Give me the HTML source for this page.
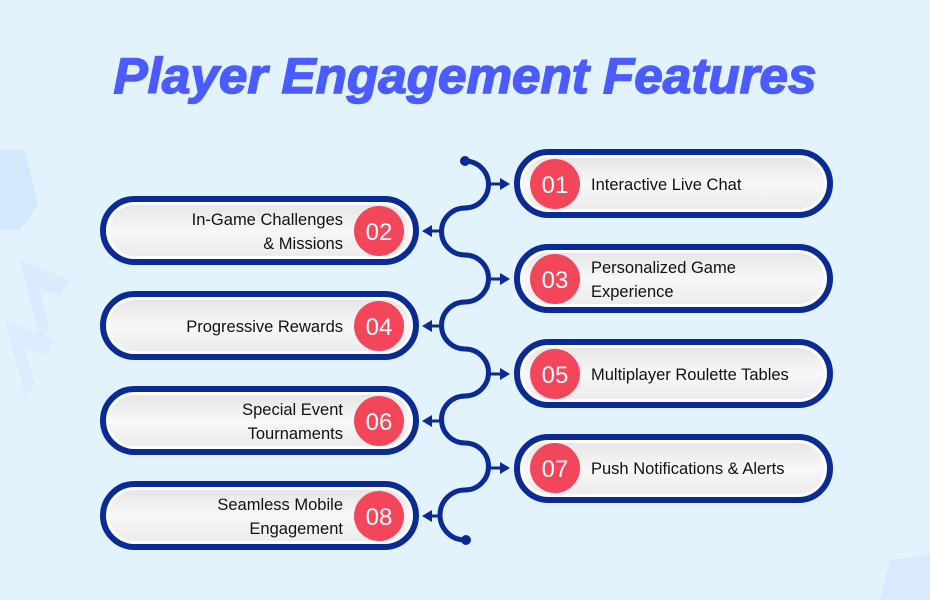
<!DOCTYPE html>
<html><head><meta charset="utf-8"><style>
html,body{margin:0;padding:0}
body{width:930px;height:600px;background:#e2f3fe;overflow:hidden;position:relative;font-family:"Liberation Sans",sans-serif}
svg{position:absolute;left:0;top:0}
.t{font-family:"Liberation Sans",sans-serif;font-size:16.5px;fill:#111}
.n{font-family:"Liberation Sans",sans-serif;font-size:24px;fill:#fff}
</style></head><body>
<svg width="930" height="600" viewBox="0 0 930 600">
<defs>
<linearGradient id="g" x1="0" y1="0" x2="0" y2="1"><stop offset="0" stop-color="#e6e6e6"/><stop offset="0.5" stop-color="#f7f7f7"/><stop offset="1" stop-color="#ececec"/></linearGradient>
</defs>
<g fill="#cddffb" opacity="0.6">
<path d="M0 150 L25 150 L38 205 L20 230 L0 230Z"/>
<path d="M20 260 L70 280 L60 295 L40 290 L50 330 L40 340Z" opacity="0.6"/>
<path d="M5 320 L55 340 L45 355 L25 348 L35 385 L25 395Z" opacity="0.5"/>
<path d="M890 560 L930 555 L930 600 L880 600Z" opacity="0.8"/>
</g>
<text x="465" y="93" text-anchor="middle" font-family="Liberation Sans, sans-serif" font-weight="bold" font-style="italic" font-size="50" fill="#4a5cff" stroke="#4a5cff" stroke-width="1.5" textLength="703" lengthAdjust="spacingAndGlyphs">Player Engagement Features</text>

<path d="M465 161 A23.5 23.5 0 0 1 465 208 A23.5 23.5 0 0 0 465 255 A23.5 23.5 0 0 1 465 302 A23.5 23.5 0 0 0 465 349 A23.5 23.5 0 0 1 465 396 A23.5 23.5 0 0 0 465 443 A23.5 23.5 0 0 1 465 490 A23.5 23.5 0 0 0 465 540" fill="none" stroke="#0a2a94" stroke-width="5"/>
<circle cx="465" cy="161" r="5" fill="#0a2a94"/>
<circle cx="466" cy="540" r="5" fill="#0a2a94"/>
<g stroke="#0a2a94" stroke-width="3" fill="#0a2a94">
<line x1="488" y1="184" x2="502" y2="184"/><path d="M510 184 L500 178 L500 190Z" stroke="none"/>
<line x1="488" y1="279" x2="502" y2="279"/><path d="M510 279 L500 273 L500 285Z" stroke="none"/>
<line x1="488" y1="374" x2="502" y2="374"/><path d="M510 374 L500 368 L500 380Z" stroke="none"/>
<line x1="488" y1="468" x2="502" y2="468"/><path d="M510 468 L500 462 L500 474Z" stroke="none"/>
<line x1="442" y1="231" x2="430" y2="231"/><path d="M422 231 L432 225 L432 237Z" stroke="none"/>
<line x1="442" y1="326" x2="430" y2="326"/><path d="M422 326 L432 320 L432 332Z" stroke="none"/>
<line x1="442" y1="421" x2="430" y2="421"/><path d="M422 421 L432 415 L432 427Z" stroke="none"/>
<line x1="442" y1="516" x2="430" y2="516"/><path d="M422 516 L432 510 L432 522Z" stroke="none"/>
</g>

<g>
<rect x="517" y="152" width="313" height="63" rx="31.5" fill="#fff" stroke="#0a2a94" stroke-width="6"/>
<rect x="523" y="158" width="301" height="51" rx="25.5" fill="url(#g)"/>
<circle cx="555" cy="184" r="25" fill="#f4465a"/><text class="n" x="555" y="193" text-anchor="middle">01</text>
<text class="t" x="591" y="190">Interactive Live Chat</text>

<rect x="517" y="247" width="313" height="63" rx="31.5" fill="#fff" stroke="#0a2a94" stroke-width="6"/>
<rect x="523" y="253" width="301" height="51" rx="25.5" fill="url(#g)"/>
<circle cx="555" cy="279" r="25" fill="#f4465a"/><text class="n" x="555" y="288" text-anchor="middle">03</text>
<text class="t" x="591" y="273">Personalized Game</text><text class="t" x="591" y="297">Experience</text>

<rect x="517" y="342" width="313" height="63" rx="31.5" fill="#fff" stroke="#0a2a94" stroke-width="6"/>
<rect x="523" y="348" width="301" height="51" rx="25.5" fill="url(#g)"/>
<circle cx="555" cy="374" r="25" fill="#f4465a"/><text class="n" x="555" y="383" text-anchor="middle">05</text>
<text class="t" x="591" y="380">Multiplayer Roulette Tables</text>

<rect x="517" y="437" width="313" height="63" rx="31.5" fill="#fff" stroke="#0a2a94" stroke-width="6"/>
<rect x="523" y="443" width="301" height="51" rx="25.5" fill="url(#g)"/>
<circle cx="555" cy="468" r="25" fill="#f4465a"/><text class="n" x="555" y="477" text-anchor="middle">07</text>
<text class="t" x="591" y="474">Push Notifications &amp; Alerts</text>
</g>

<g>
<rect x="103" y="199" width="313" height="63" rx="31.5" fill="#fff" stroke="#0a2a94" stroke-width="6"/>
<rect x="109" y="205" width="301" height="51" rx="25.5" fill="url(#g)"/>
<circle cx="379" cy="231" r="25" fill="#f4465a"/><text class="n" x="379" y="240" text-anchor="middle">02</text>
<text class="t" x="343" y="225" text-anchor="end">In-Game Challenges</text><text class="t" x="343" y="249" text-anchor="end">&amp; Missions</text>

<rect x="103" y="294" width="313" height="63" rx="31.5" fill="#fff" stroke="#0a2a94" stroke-width="6"/>
<rect x="109" y="300" width="301" height="51" rx="25.5" fill="url(#g)"/>
<circle cx="379" cy="326" r="25" fill="#f4465a"/><text class="n" x="379" y="335" text-anchor="middle">04</text>
<text class="t" x="343" y="332" text-anchor="end">Progressive Rewards</text>

<rect x="103" y="389" width="313" height="63" rx="31.5" fill="#fff" stroke="#0a2a94" stroke-width="6"/>
<rect x="109" y="395" width="301" height="51" rx="25.5" fill="url(#g)"/>
<circle cx="379" cy="421" r="25" fill="#f4465a"/><text class="n" x="379" y="430" text-anchor="middle">06</text>
<text class="t" x="343" y="415" text-anchor="end">Special Event</text><text class="t" x="343" y="439" text-anchor="end">Tournaments</text>

<rect x="103" y="484" width="313" height="63" rx="31.5" fill="#fff" stroke="#0a2a94" stroke-width="6"/>
<rect x="109" y="490" width="301" height="51" rx="25.5" fill="url(#g)"/>
<circle cx="379" cy="516" r="25" fill="#f4465a"/><text class="n" x="379" y="525" text-anchor="middle">08</text>
<text class="t" x="343" y="510" text-anchor="end">Seamless Mobile</text><text class="t" x="343" y="534" text-anchor="end">Engagement</text>
</g>
</svg>
</body></html>
